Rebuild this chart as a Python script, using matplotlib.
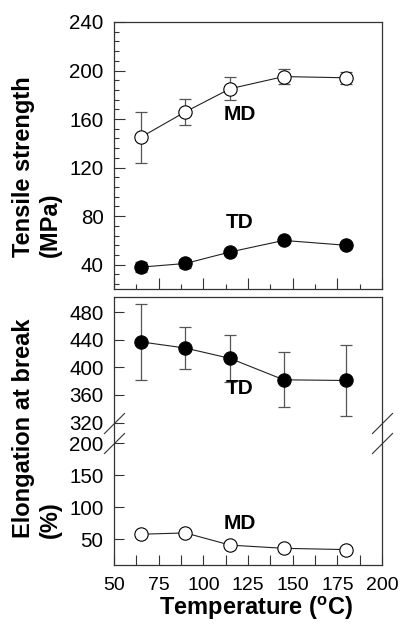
import numpy as np
import matplotlib.pyplot as plt
from matplotlib.ticker import MultipleLocator, FixedLocator
import matplotlib.transforms as mtransforms

plt.rcParams['font.family'] = 'Liberation Sans'
plt.rcParams['mathtext.fontset'] = 'custom'
plt.rcParams['mathtext.rm'] = 'Liberation Sans'
plt.rcParams['mathtext.bf'] = 'Liberation Sans:bold'

# drawing temperature (C)
temp = [65, 90, 115, 145, 180]

# tensile strength (MPa)
ts_md = [145, 166, 185, 195, 194]
ts_md_err = [21, 10.5, 9.5, 6.5, 5]
ts_td = [38, 41, 50.5, 60, 56]
ts_td_err = [4, 4, 2, 2, 2]

# elongation at break (%)
el_td = [437, 428, 413, 382, 381]
el_td_err = [55, 31, 34, 40, 51]
el_md = [58, 60, 41, 36, 34]
el_md_err = [2, 2, 2, 2, 2]

spine_c = '#333333'
ms = 9.6


def series(ax, x, y, err, filled):
    ax.errorbar(x, y, yerr=err, fmt='none', ecolor='#555555', elinewidth=0.9,
                capsize=4.3, capthick=0.9, zorder=2)
    ax.plot(x, y, '-', color='#222222', lw=0.8, marker='o', ms=ms,
            mfc='black' if filled else 'white', mec='black', mew=0.8, zorder=3)


def style(ax):
    for s in ax.spines.values():
        s.set_color(spine_c)
        s.set_linewidth(0.9)
    ax.tick_params(which='both', direction='in', top=False, right=False,
                   color=spine_c, width=0.8)
    ax.tick_params(axis='y', labelsize=14.8)
    ax.tick_params(axis='x', labelsize=14)


fig = plt.figure(figsize=(4.02, 6.24), dpi=100)

# tensile strength panel
ax1 = fig.add_axes([0.2836, 0.5369, 0.6667, 0.4279])
series(ax1, temp, ts_md, ts_md_err, False)
series(ax1, temp, ts_td, ts_td_err, True)
ax1.set_xlim(50, 200)
ax1.set_ylim(20, 240)
ax1.xaxis.set_major_locator(MultipleLocator(25))
ax1.xaxis.set_minor_locator(MultipleLocator(12.5))
ax1.yaxis.set_major_locator(MultipleLocator(40))
ax1.yaxis.set_minor_locator(MultipleLocator(8))
style(ax1)
ax1.tick_params(which='major', length=8, pad=7.5)
ax1.tick_params(which='minor', length=3.6)
ax1.tick_params(axis='x', labelbottom=False)
ax1.text(120.5, 164, 'MD', ha='center', va='center', fontsize=15, fontweight='bold')
ax1.text(120.5, 74.7, 'TD', ha='center', va='center', fontsize=15, fontweight='bold')

# elongation panel with a broken y axis between 200 and 320
gap_units = 32.3
upper_slope = 1.077
src = [-1000, 200, 320, 3000]
dst = [-1000, 200, 200 + gap_units, 200 + gap_units + (3000 - 320) * upper_slope]


def fwd(v):
    return np.interp(v, src, dst)


def inv(v):
    return np.interp(v, dst, src)


ax2 = fig.add_axes([0.2836, 0.0946, 0.6667, 0.4294])
ax2.set_yscale('function', functions=(fwd, inv))
series(ax2, temp, el_td, el_td_err, True)
series(ax2, temp, el_md, el_md_err, False)
ax2.set_xlim(50, 200)
ax2.set_ylim(10, 502)
ax2.xaxis.set_major_locator(MultipleLocator(25))
ax2.xaxis.set_minor_locator(MultipleLocator(12.5))
ax2.yaxis.set_major_locator(FixedLocator([50, 100, 150, 200, 320, 360, 400, 440, 480]))
ax2.yaxis.set_minor_locator(FixedLocator([]))
style(ax2)
ax2.tick_params(which='both', length=7)
ax2.tick_params(axis='y', pad=7.5)
ax2.tick_params(axis='x', pad=9)
ax2.text(120.5, 370, 'TD', ha='center', va='center', fontsize=15, fontweight='bold')
ax2.text(120.5, 75, 'MD', ha='center', va='center', fontsize=15, fontweight='bold')

# break marks on both spines
trans = mtransforms.blended_transform_factory(ax2.transAxes, ax2.transData)
for xa in (0, 1):
    ax2.plot([xa, xa], [200, 320], linestyle='none', marker=[(-1, -1), (1, 1)],
             ms=15, mec='#333333', mew=0.8, transform=trans, clip_on=False, zorder=5)

fig.text(0.092, 1 - 257 / 624, 'Tensile strength\n(MPa)', rotation=90, ha='center',
         va='bottom', multialignment='left', fontsize=17, fontweight='bold')
fig.text(0.092, 1 - 538 / 624, 'Elongation at break\n(%)', rotation=90, ha='center',
         va='bottom', multialignment='left', fontsize=17, fontweight='bold')
fig.text(0.6375, 1 - 608 / 624, r'Temperature ($\mathbf{^{o}}$C)', ha='center',
         va='center', fontsize=17, fontweight='bold')

fig.savefig('out.png', dpi=100)
